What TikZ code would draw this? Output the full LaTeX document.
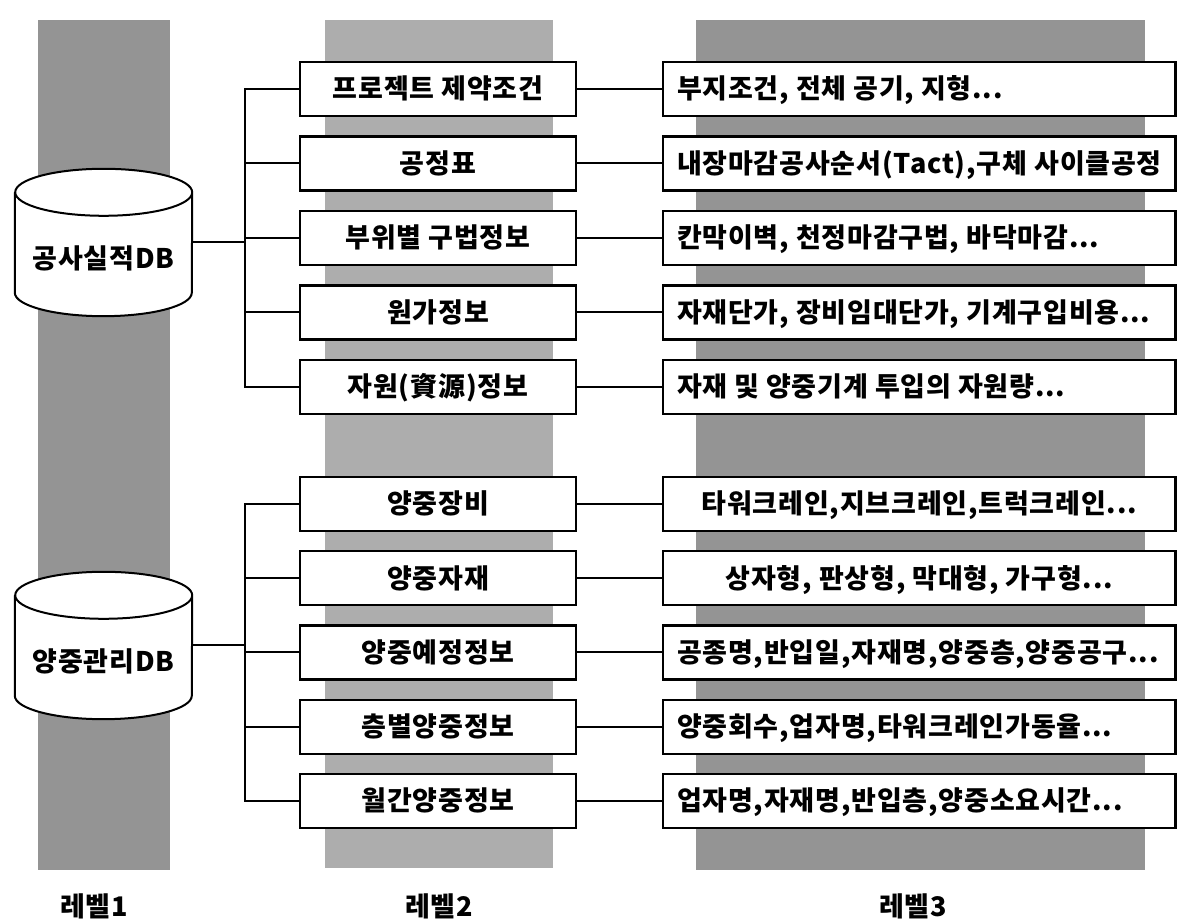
\documentclass[tikz,border=0pt]{standalone}
\usepackage{fontspec}
\setmainfont{Noto Sans CJK KR}[LetterSpace=3]
\usetikzlibrary{backgrounds}
\tikzset{
    column/.style={fill=black!42},
    txt/.style={font=\fontsize{27}{31}\selectfont\bfseries,text height=23pt,text depth=3pt,inner sep=0pt},
    box2/.style={txt,draw,fill=white,line width=2.4pt,minimum width=276pt,minimum height=54pt},
    box3/.style={draw,fill=white,line width=2.4pt,minimum width=512.5pt,minimum height=54pt,inner sep=0pt},
    db/.style={txt,minimum width=177pt,text height=99.5pt,text depth=47.5pt},
    dbline/.style={draw,fill=white,line width=2pt},
    link/.style={line width=2pt}
}
\begin{document}
\begin{tikzpicture}[x=1pt,y=1pt]
    \useasboundingbox (0,0) rectangle (1177,920);
    % level 1
    \node[db] (db1) at (103.5,677.5) {공사실적DB};
    \node[db] (db2) at (103.5,274.5) {양중관리DB};
    \coordinate (bus1) at (245,677.5);
    \coordinate (bus2) at (245,274.5);
    % level 2
    \foreach[evaluate={\y=\i<6?831-74.5*(\i-1):416-74.25*(\i-6)}] \i/\t in {1/프로젝트 제약조건,2/공정표,
        3/부위별 구법정보,4/원가정보,5/자원(資源)정보,6/양중장비,7/양중자재,8/양중예정정보,9/층별양중정보,10/월간양중정보}
        \node[box2] (b\i) at (438,\y) {\t};
    % level 3
    \foreach[evaluate={\y=\i<6?831-74.5*(\i-1):416-74.25*(\i-6)}] \i in {1,...,10}
        \node[box3] (c\i) at (919.25,\y) {};
    \foreach \i/\t in {1/{부지조건, 전체 공기, 지형...},2/{내장마감공사순서(Tact),구체 사이클공정},
        3/{칸막이벽, 천정마감구법, 바닥마감...},4/{자재단가, 장비임대단가, 기계구입비용...},
        5/{자재 및 양중기계 투입의 자원량...},8/{공종명,반입일,자재명,양중층,양중공구...},
        9/{양중회수,업자명,타워크레인가동율...},10/{업자명,자재명,반입층,양중소요시간...}}
        \node[txt,anchor=west] (d\i) at ([xshift=15]c\i.west) {\t};
    \foreach \i/\t in {6/{타워크레인,지브크레인,트럭크레인...},7/{상자형, 판상형, 막대형, 가구형...}}
        \node[txt] (d\i) at (c\i) {\t};
    % connectors
    \foreach \i in {1,...,5}
        \draw[link] (db1.east) -- (bus1) |- (b\i.west);
    \foreach \i in {6,...,10}
        \draw[link] (db2.east) -- (bus2) |- (b\i.west);
    \foreach \i in {1,...,10}
        \draw[link] (b\i.east) -- (c\i.west);
    % bottom
    \node[txt] (lv1) at (94,13) {레벨1};
    \node[txt] (lv2) at (439,13) {레벨2};
    \node[txt] (lv3) at (913,13) {레벨3};
    % gray columns and cylinders
    \begin{scope}[on background layer]
        \fill[column] (38,50) rectangle (170,900);
        \fill[column,fill=black!32] (325,52) rectangle (553,900);
        \fill[column] (696,50) rectangle (1145,900);
        \foreach \d in {db1,db2}
            \filldraw[dbline] ([yshift=-23.5]\d.north west) -- ([yshift=23.5]\d.south west)
                arc[start angle=180,end angle=360,x radius=88.5,y radius=23.5]
                -- ([yshift=-23.5]\d.north east)
                arc[start angle=0,end angle=360,x radius=88.5,y radius=23.5];
    \end{scope}
\end{tikzpicture}
\end{document}
